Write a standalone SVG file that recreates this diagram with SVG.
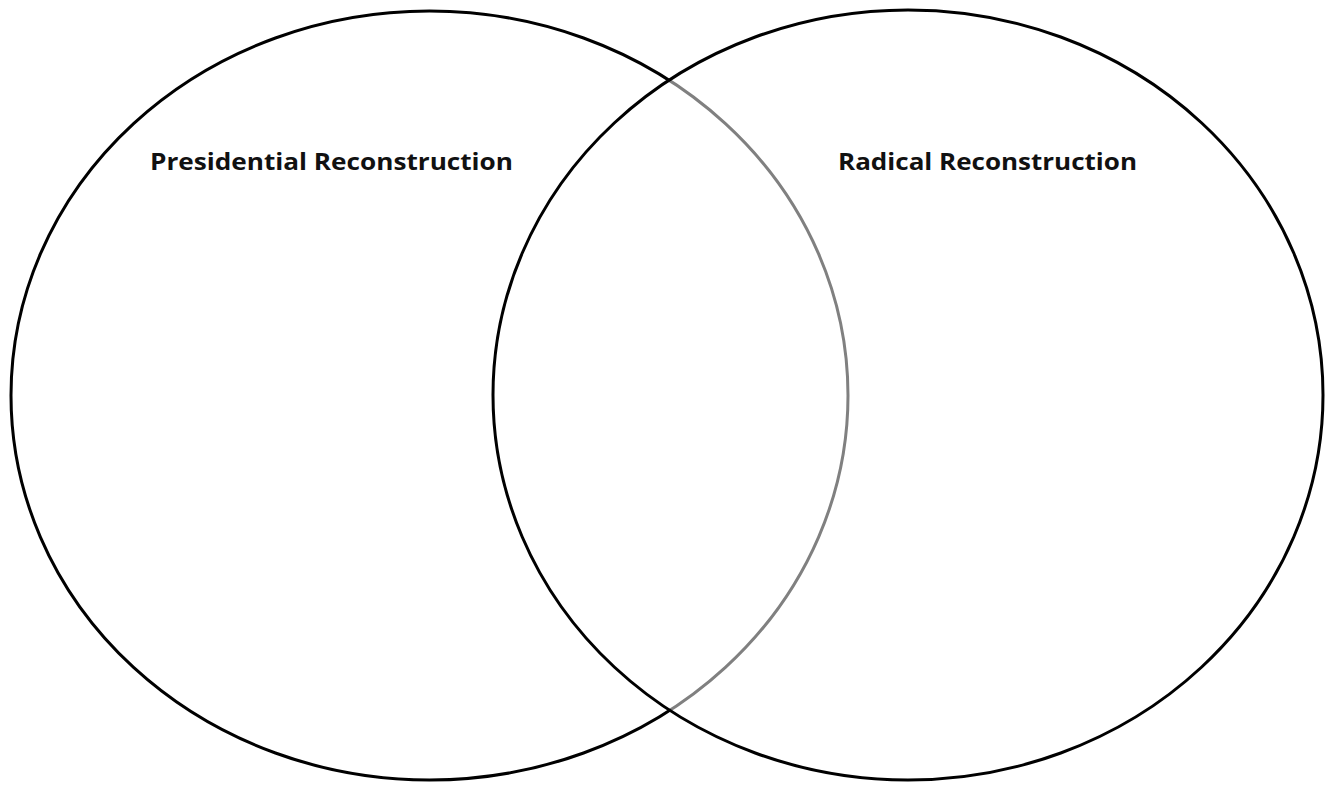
<svg xmlns="http://www.w3.org/2000/svg" width="1328" height="785" viewBox="0 0 1328 785">
<style>
.c{stroke:#000;stroke-width:3;}
.t{font-family:"Open Sans","Liberation Sans",sans-serif;font-weight:bold;font-size:24px;fill:#111;}
</style>
<rect width="1328" height="785" fill="#fff"/>
<g id="left">
<ellipse class="c" cx="429.5" cy="395.5" rx="418.5" ry="384.5" fill="#fff"/>
<text class="t" x="150" y="169.5" textLength="363" lengthAdjust="spacingAndGlyphs">Presidential Reconstruction</text>
</g>
<g id="right">
<ellipse class="c" cx="908" cy="395" rx="415" ry="385" fill="#fff" fill-opacity="0.5"/>
<text class="t" x="838" y="169.5" textLength="299" lengthAdjust="spacingAndGlyphs">Radical Reconstruction</text>
</g>
<g id="connectors"/>
</svg>
